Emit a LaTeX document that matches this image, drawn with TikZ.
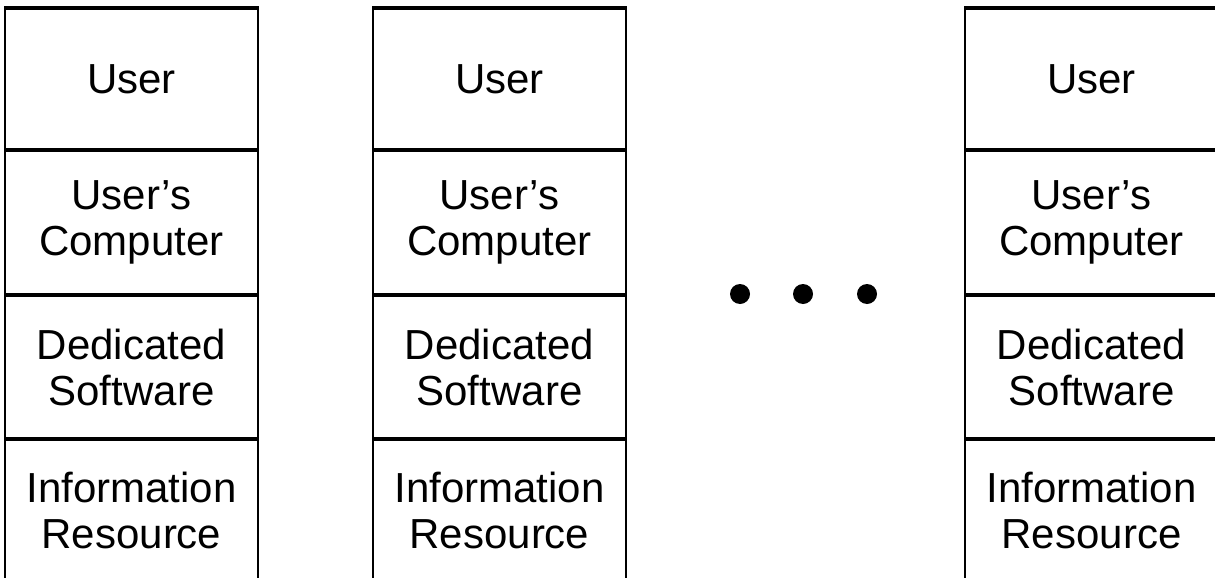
\documentclass[tikz,border=0pt]{standalone}
\usepackage{fontspec}
\setmainfont{Liberation Sans}
\begin{document}
\begin{tikzpicture}[x=1pt,y=-1pt,
  cell/.style={inner sep=0pt, align=center, font=\fontsize{42}{46}\selectfont},
  hline/.style={line width=3.5pt},
  vline/.style={line width=2.2pt},
  dot/.style={circle, fill=black, minimum size=20pt, inner sep=0pt}]
\useasboundingbox (0,0) rectangle (1215,578);
\clip (0,0) rectangle (1215,578);
\foreach \i/\l in {1/5,2/373,3/965} {
  \pgfmathsetmacro\r{\l+253}
  \pgfmathsetmacro\c{\l+126.5}
  \node[cell] (user\i) at (\c,79) {User};
  \node[cell] (comp\i) at (\c,222) {User's\\Computer};
  \node[cell] (soft\i) at (\c,367) {Dedicated\\Software};
  \node[cell] (info\i) at (\c,510) {Information\\Resource};
  \draw[vline] (\l,8) -- (\l,600);
  \draw[vline] (\r,8) -- (\r,600);
  \foreach \y in {8,150,295,439} \draw[hline] (\l-1,\y) -- (\r+1,\y);
}
\node[dot] (d1) at (740,294) {};
\node[dot] (d2) at (803,294) {};
\node[dot] (d3) at (867,294) {};
\end{tikzpicture}
\end{document}
